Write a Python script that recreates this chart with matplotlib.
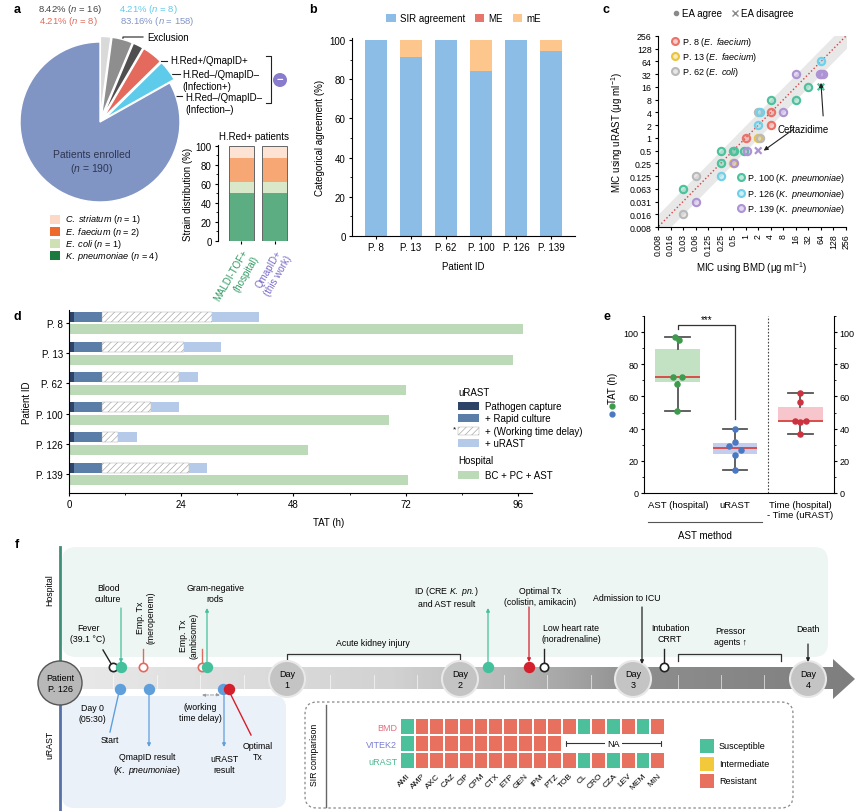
import numpy as np
import matplotlib
matplotlib.use('Agg')
import matplotlib.pyplot as plt
from matplotlib.patches import Rectangle, Circle, FancyBboxPatch, Polygon
from matplotlib.lines import Line2D
from matplotlib.colors import ListedColormap, LinearSegmentedColormap, to_rgba
from matplotlib.ticker import NullLocator, MultipleLocator

plt.rcParams['font.family'] = ['Liberation Sans', 'DejaVu Sans']
plt.rcParams['mathtext.fontset'] = 'custom'
plt.rcParams['mathtext.rm'] = 'Liberation Sans'
plt.rcParams['mathtext.it'] = 'Liberation Sans:italic'
plt.rcParams['font.size'] = 7
plt.rcParams['axes.linewidth'] = 0.8
plt.rcParams['xtick.major.width'] = 0.8
plt.rcParams['ytick.major.width'] = 0.8
plt.rcParams['xtick.major.size'] = 2.5
plt.rcParams['ytick.major.size'] = 2.5
plt.rcParams['xtick.minor.size'] = 1.5
plt.rcParams['ytick.minor.size'] = 1.5
plt.rcParams['xtick.major.pad'] = 2
plt.rcParams['ytick.major.pad'] = 2
plt.rcParams['hatch.linewidth'] = 0.5

# ---- data: panel a ----
pie_n = [4, 8, 4, 8, 8, 158]          # exclusion (3 parts), H.Red+/QmapID+, H.Red-/QmapID-, enrolled
pie_colors = ['#d9d9d9', '#8e8e8e', '#4f4f4f', '#e36a5c', '#5fcbeb', '#8195c5']
strain_names = ['C. striatum', 'E. faecium', 'E. coli', 'K. pneumoniae']
strain_n = [1, 2, 1, 4]
strain_groups = ['MALDI-TOF+\n(hospital)', 'QmapID+\n(this work)']

# ---- data: panel b ----
patients = ['P. 8', 'P. 13', 'P. 62', 'P. 100', 'P. 126', 'P. 139']
sir_agree = [100, 91.5, 100, 84, 100, 94.5]
major_err = [0, 0, 0, 0, 0, 0]
minor_err = [0, 8.5, 0, 16, 0, 5.5]

# ---- data: panel c (MIC, ug/ml) ----
p8_bmd, p8_urast = [1, 4, 4], [1, 4, 2]
p13_bmd, p13_urast = [0.5, 2], [0.25, 1]
p62_bmd, p62_urast = [0.031, 0.063, 2, 2.15], [0.016, 0.125, 4, 1]
p100_bmd = [0.031, 0.25, 0.25, 0.5, 0.52, 0.9, 4, 16, 32]
p100_urast = [0.063, 0.25, 0.5, 0.5, 0.5, 0.5, 8, 8, 16]
p126_bmd, p126_urast = [0.25, 2, 2.15, 64], [0.125, 2, 4, 64]
p139_bmd = [0.063, 0.53, 1.05, 8, 16, 60, 64, 70]
p139_urast = [0.031, 0.25, 0.5, 4, 32, 32, 32, 32]
disagree_bmd = [64, 2]
disagree_urast = [16, 0.5]

# ---- data: panel d (TAT, h) ----
capture_end = [1, 1, 1, 1, 1, 1]
culture_end = [7, 7, 7, 7, 7, 7]
delay_end = [30.5, 24.6, 23.5, 17.6, 10.5, 25.6]
urast_tat = [40.7, 32.6, 27.6, 23.6, 14.6, 29.6]
hospital_tat = [97, 95, 72, 68.5, 51, 72.5]

# ---- data: panel e ----
e_labels = ['AST (hospital)', 'uRAST', 'Time (hospital)\n- Time (uRAST)']
tat_hospital = [97, 95, 72, 72, 68, 51]
tat_urast = [40, 32, 29.5, 27, 23.5, 14.5]
tat_diff = [62, 56.5, 45, 44.5, 44, 36.5]

# ---- data: panel f (SIR comparison) ----
antibiotics = ['AMI', 'AMP', 'AXC', 'CAZ', 'CIP', 'CPM', 'CTX', 'ETP', 'GEN',
               'IPM', 'PTZ', 'TOB', 'CL', 'CRO', 'CZA', 'LEV', 'MEM', 'MIN']
sir_methods = ['BMD', 'VITEK2', 'uRAST']
bmd_sir = list('SRRRRRRRRRRRSRSRSR')
vitek2_sir = list('SRRRRRRRRRR') + [None] * 7
urast_sir = list('SRRRRRRRRRRRSRSRSR')

W, H = 855, 812
fig = plt.figure(figsize=(W / 100, H / 100), dpi=100)


def rect(x0, y0, x1, y1):
    return [x0 / W, 1 - y1 / H, (x1 - x0) / W, (y1 - y0) / H]


ov = fig.add_axes([0, 0, 1, 1], zorder=0)
ov.set_autoscale_on(False)
ov.set_xlim(0, W)
ov.set_ylim(H, 0)
ov.axis('off')


def t(x, y, s, size=6.3, **kw):
    kw.setdefault('ha', 'center')
    kw.setdefault('va', 'center')
    return ov.text(x, y, s, fontsize=size, **kw)


for lab, (x, y) in zip('abcdef', [(17, 10), (313, 10), (606, 10), (17, 317), (607, 317), (17, 545)]):
    ov.text(x, y, lab, fontsize=9, fontweight='bold', ha='center', va='center')

# ================= panel a =================
ax_pie = fig.add_axes(rect(12, 35, 188, 211))
ax_pie.pie(pie_n, colors=pie_colors, startangle=90, counterclock=False,
           explode=[0.07] * 5 + [0], wedgeprops=dict(edgecolor='white', linewidth=1))
ax_pie.set_xlim(-1.1, 1.1)
ax_pie.set_ylim(-1.1, 1.1)
ax_pie.text(-0.1, -0.5, 'Patients enrolled\n($\\it{n}$ = 190)', ha='center', va='center', fontsize=7.5, color='#2d3550')

t(70, 9, '8.42% ($\\it{n}$ = 16)', size=6.8, color='#444444')
t(68, 22, '4.21% ($\\it{n}$ = 8)', size=6.8, color='#e36a5c')
t(148, 9, '4.21% ($\\it{n}$ = 8)', size=6.8, color='#5fcbeb')
t(157, 22, '83.16% ($\\it{n}$ = 158)', size=6.8, color='#8195c5')

ov.plot([122, 123, 143], [48, 38, 38], color='#222', lw=0.8)
t(147, 38, 'Exclusion', size=7, ha='left')
ov.plot([147, 167], [62, 62], color='#222', lw=0.8)
t(170, 61, 'H.Red+/QmapID+', size=7, ha='left')
ov.plot([160, 180], [75, 75], color='#222', lw=0.8)
t(182, 81, 'H.Red–/QmapID–\n(Infection+)', size=7, ha='left')
ov.plot([165, 182], [97, 97], color='#222', lw=0.8)
t(185, 104, 'H.Red–/QmapID–\n(Infection–)', size=7, ha='left')
ov.plot([266, 271, 271, 266], [57, 57, 104, 104], color='#222', lw=0.8)
ov.add_patch(Circle((280, 81), 7, fc='#8a7ccc', ec='none'))
t(280, 80, '−', size=8, color='white', fontweight='bold')

legend_cols = ['#fbd9c6', '#ee6a2c', '#cfe0b4', '#1b7a3e']
for i, (name, n, c) in enumerate(zip(strain_names, strain_n, legend_cols)):
    y = 220 + i * 12.3
    ov.add_patch(Rectangle((50, y - 4.5), 10, 9, fc=c, ec='none'))
    nm = name.replace(' ', '\\ ')
    t(65, y, f'$\\it{{{nm}}}$ ($\\it{{n}}$ = {n})', size=6.6, ha='left')

ax_st = fig.add_axes(rect(218, 146, 290, 242))
ax_st.patch.set_alpha(0)
bar_cols = ['#fde3d4', '#f6a774', '#d9e8c8', '#5dad82']
bottom = np.zeros(2)
total = sum(strain_n)
for n, c in zip(strain_n[::-1], bar_cols[::-1]):
    pct = np.full(2, n / total * 100)
    ax_st.bar([0, 1], pct, bottom=bottom, width=0.75, color=c, lw=0)
    bottom = bottom + pct
ax_st.bar([0, 1], bottom, width=0.75, fill=False, edgecolor='#666', lw=0.7)
ax_st.set_xlim(-0.7, 1.45)
ax_st.set_ylim(0, 101)
ax_st.set_yticks([0, 20, 40, 60, 80, 100])
ax_st.yaxis.set_minor_locator(MultipleLocator(10))
ax_st.set_xticks([0, 1])
ax_st.set_xticklabels(strain_groups, rotation=60, ha='right', rotation_mode='anchor', fontsize=7)
for lbl, c in zip(ax_st.get_xticklabels(), ['#2f9a62', '#7a6cc8']):
    lbl.set_color(c)
for s in ['top', 'right', 'bottom']:
    ax_st.spines[s].set_visible(False)
ax_st.set_ylabel('Strain distribution (%)', fontsize=7, labelpad=2)
ax_st.set_title('H.Red+ patients', fontsize=7, pad=4)
ax_st.tick_params(labelsize=7)

# ================= panel b =================
ax_b = fig.add_axes(rect(352, 39, 575, 237))
ax_b.patch.set_alpha(0)
xb = np.arange(len(patients))
ax_b.bar(xb, sir_agree, width=0.63, color='#8bbde6', label='SIR agreement')
ax_b.bar(xb, major_err, bottom=sir_agree, width=0.63, color='#e8756a', label='ME')
ax_b.bar(xb, minor_err, bottom=np.array(sir_agree) + np.array(major_err), width=0.63,
         color='#fcc68d', label='mE')
ax_b.set_xlim(-0.69, 5.69)
ax_b.set_ylim(0, 101)
ax_b.set_xticks(xb)
ax_b.set_xticklabels(patients)
ax_b.set_yticks([0, 20, 40, 60, 80, 100])
ax_b.yaxis.set_minor_locator(MultipleLocator(10))
for s in ['top', 'right']:
    ax_b.spines[s].set_visible(False)
ax_b.set_ylabel('Categorical agreement (%)', fontsize=7, labelpad=3)
ax_b.set_xlabel('Patient ID', fontsize=7, labelpad=6)
ax_b.tick_params(labelsize=7)
ax_b.legend(loc='center', bbox_to_anchor=(0.5, 1.1), ncol=3, frameon=False, fontsize=7,
            handlelength=1.0, handleheight=1.0, handletextpad=0.4, columnspacing=1.0)

# ================= panel c =================
ax_c = fig.add_axes(rect(658, 37, 846, 228))
ax_c.patch.set_alpha(0)
ax_c.set_xscale('log', base=2)
ax_c.set_yscale('log', base=2)
xs = np.logspace(-9, 10, 60, base=2)
ax_c.fill_between(xs, xs / 2, xs * 2, color='#e8e8e8', lw=0, zorder=0)
ax_c.plot(xs, xs, ls=':', color='#d84040', lw=1, zorder=1)
c_series = [
    (p8_bmd, p8_urast, '#ea7268', 'P. 8 ($\\it{E.\\ faecium}$)'),
    (p13_bmd, p13_urast, '#e9c43c', 'P. 13 ($\\it{E.\\ faecium}$)'),
    (p62_bmd, p62_urast, '#b9b9b9', 'P. 62 ($\\it{E.\\ coli}$)'),
    (p100_bmd, p100_urast, '#4dc09c', 'P. 100 ($\\it{K.\\ pneumoniae}$)'),
    (p126_bmd, p126_urast, '#6fd0ea', 'P. 126 ($\\it{K.\\ pneumoniae}$)'),
    (p139_bmd, p139_urast, '#ad93d4', 'P. 139 ($\\it{K.\\ pneumoniae}$)'),
]
handles = []
for bx, by, c, lab in c_series:
    ax_c.scatter(bx, by, s=28, facecolors=[to_rgba(c, 0.35)], edgecolors=c, linewidths=1.5, zorder=3)
    handles.append(Line2D([], [], ls='', marker='o', ms=5, mfc=to_rgba(c, 0.35), mec=c, mew=1.5, label=lab))
ax_c.scatter(disagree_bmd, disagree_urast, marker='x', s=22, color=['#4dc09c', '#ad93d4'], linewidths=1.6, zorder=3)
ticks = [2.0 ** k for k in range(-7, 9)]
ax_c.set_xticks(ticks)
ax_c.set_yticks(ticks)
ax_c.set_xticklabels(['0.008', '0.016', '0.03', '0.06', '0.125', '0.25', '0.5', '1', '2', '4', '8',
                      '16', '32', '64', '128', '256'], rotation=90)
ax_c.set_yticklabels(['0.008', '0.016', '0.031', '0.063', '0.125', '0.25', '0.5', '1', '2', '4', '8',
                      '16', '32', '64', '128', '256'])
ax_c.xaxis.set_minor_locator(NullLocator())
ax_c.yaxis.set_minor_locator(NullLocator())
ax_c.set_xlim(2.0 ** -7, 2.0 ** 8)
ax_c.set_ylim(2.0 ** -7, 2.0 ** 8)
for s in ['top', 'right']:
    ax_c.spines[s].set_visible(False)
ax_c.tick_params(labelsize=6.3)
ax_c.set_xlabel('MIC using BMD (μg ml$^{-1}$)', fontsize=7, labelpad=3)
ax_c.set_ylabel('MIC using uRAST (μg ml$^{-1}$)', fontsize=7, labelpad=3)
leg1 = ax_c.legend(handles=handles[:3], loc='upper left', bbox_to_anchor=(0.04, 1.04), frameon=False,
                   fontsize=6.5, handlelength=0.8, handletextpad=0.3, labelspacing=0.25, borderpad=0.2)
ax_c.add_artist(leg1)
leg2 = ax_c.legend(handles=handles[3:], loc='lower right', bbox_to_anchor=(1.03, 0.03), frameon=False,
                   fontsize=6.5, handlelength=0.8, handletextpad=0.3, labelspacing=0.25, borderpad=0.2)
ax_c.add_artist(leg2)
ea = [Line2D([], [], ls='', marker='o', ms=3, color='#8a8a8a', label='EA agree'),
      Line2D([], [], ls='', marker='x', ms=4, mew=1, color='#8a8a8a', label='EA disagree')]
ax_c.legend(handles=ea, loc='center', bbox_to_anchor=(0.4, 1.12), ncol=2, frameon=False, fontsize=7,
            handlelength=0.6, handletextpad=0.3, columnspacing=1.0)
ax_c.annotate('Ceftazidime', xy=(64, 20), xytext=(24, 1.6), fontsize=7, ha='center', va='center',
              arrowprops=dict(arrowstyle='-|>', color='#222', lw=0.8, mutation_scale=6,
                              shrinkA=4, shrinkB=0, relpos=(0.9, 1)))
ax_c.annotate('', xy=(2.7, 0.5), xytext=(14, 1.6),
              arrowprops=dict(arrowstyle='-|>', color='#222', lw=0.8, mutation_scale=6,
                              shrinkA=0, shrinkB=0))

# ================= panel d =================
ax_d = fig.add_axes(rect(69, 311, 532, 494))
ax_d.patch.set_alpha(0)
yd = np.arange(len(patients))
yu, yh, bh = yd - 0.21, yd + 0.21, 0.33
ax_d.barh(yu, capture_end, height=bh, color='#2d4468', lw=0)
ax_d.barh(yu, np.array(culture_end) - np.array(capture_end), left=capture_end, height=bh, color='#5b7ea8', lw=0)
ax_d.barh(yu, np.array(delay_end) - np.array(culture_end), left=culture_end, height=bh,
          color='white', edgecolor='#a8a8a8', hatch='/////', lw=0.3)
ax_d.barh(yu, np.array(urast_tat) - np.array(delay_end), left=delay_end, height=bh, color='#b5c9e9', lw=0)
ax_d.barh(yh, hospital_tat, height=bh, color='#bcdab8', lw=0)
ax_d.set_xlim(0, 99)
ax_d.set_ylim(5.63, -0.43)
ax_d.set_yticks(yd)
ax_d.set_yticklabels(patients)
ax_d.set_xticks([0, 24, 48, 72, 96])
ax_d.xaxis.set_minor_locator(MultipleLocator(12))
for s in ['top', 'right']:
    ax_d.spines[s].set_visible(False)
ax_d.tick_params(labelsize=7)
ax_d.set_ylabel('Patient ID', fontsize=7, labelpad=3)
ax_d.set_xlabel('TAT (h)', fontsize=7, labelpad=8)
ax_d.xaxis.set_label_coords(0.56, -0.13)

t(458, 393, 'uRAST', size=7, ha='left')
d_leg = [('#2d4468', None, 'Pathogen capture'), ('#5b7ea8', None, '+ Rapid culture'),
         ('white', '/////', '+ (Working time delay)'), ('#b5c9e9', None, '+ uRAST')]
for i, (c, hatch, lab) in enumerate(d_leg):
    y = 407 + i * 12.3
    ov.add_patch(Rectangle((458, y - 4), 21, 8, fc=c, ec='#a8a8a8' if hatch else 'none',
                           hatch=hatch, lw=0.3 if hatch else 0))
    t(485, y, lab, size=7, ha='left')
t(454, 430, '*', size=6)
t(458, 461, 'Hospital', size=7, ha='left')
ov.add_patch(Rectangle((458, 472), 21, 8, fc='#bcdab8', ec='none'))
t(485, 476, 'BC + PC + AST', size=7, ha='left')

# ================= panel e =================
ax_e = fig.add_axes(rect(644, 317, 834, 494))
ax_e.patch.set_alpha(0)
e_pos = [0, 1, 2.14]
bp = ax_e.boxplot([tat_hospital, tat_urast, tat_diff], positions=e_pos, widths=0.78, whis=(0, 100),
                  patch_artist=True, showfliers=False, capwidths=0.43,
                  medianprops=dict(color='#d9443f', lw=1.3),
                  whiskerprops=dict(color='#555', lw=1.3), capprops=dict(color='#555', lw=1.3),
                  boxprops=dict(lw=0))
box_fc = ['#c3e2c3', '#c5cdee', '#f7c6cc']
for patch, c in zip(bp['boxes'], box_fc):
    patch.set_facecolor(c)
    patch.set_edgecolor('none')
    patch.set_zorder(1)
jit_h = [-0.05, 0.03, -0.09, 0.08, -0.02, -0.02]
jit_u = [0, 0, -0.1, 0.1, 0, 0]
jit_d = [0, 0, -0.1, 0.1, 0, 0]
for vals, jit, x0, c in [(tat_hospital, jit_h, e_pos[0], '#3e9a4c'),
                         (tat_urast, jit_u, e_pos[1], '#4a78c2'),
                         (tat_diff, jit_d, e_pos[2], '#cc3340')]:
    ax_e.scatter(np.array(jit) + x0, vals, s=22, color=c, zorder=4, lw=0)
ax_e.axvline(1.57, ls=(0, (1.5, 1.5)), color='#444', lw=0.8)
ax_e.plot([0, 0, 1, 1], [102, 104.5, 104.5, 46], color='#333', lw=0.9)
ax_e.text(0.5, 104.8, '***', ha='center', va='bottom', fontsize=7)
ax_e.set_xlim(-0.59, 2.73)
ax_e.set_ylim(0, 110)
ax_e.set_yticks([0, 20, 40, 60, 80, 100])
ax_e.yaxis.set_minor_locator(MultipleLocator(10))
ax_e.set_xticks(e_pos)
ax_e.set_xticklabels(e_labels, fontsize=6.8)
ax_e.tick_params(axis='x', length=0, pad=5)
ax_e.tick_params(axis='y', which='both', right=True, labelright=True, pad=1.5, labelsize=6.5)
ax_e.spines['top'].set_visible(False)
t(613, 388, 'TAT (h)', size=7, rotation=90)
ov.plot([612], [407], 'o', ms=3.5, color='#3e9a4c')
ov.plot([612], [415], 'o', ms=3.5, color='#4a78c2')
ov.plot([648, 762], [523, 523], color='#555', lw=0.8)
t(705, 536, 'AST method', size=7)

# ================= panel f =================
ov.add_patch(FancyBboxPatch((62, 548), 766, 110, boxstyle='round,pad=0,rounding_size=14',
                            fc='#eef6f3', ec='none', zorder=0))
ov.add_patch(FancyBboxPatch((62, 697), 224, 112, boxstyle='round,pad=0,rounding_size=12',
                            fc='#ebf1f9', ec='none', zorder=0))
ov.plot([60, 60], [548, 662], color='#3d8f78', lw=2, zorder=1)
ov.plot([60, 60], [706, 812], color='#5470a6', lw=2, zorder=1)
t(50, 590, 'Hospital', rotation=90)
t(50, 745, 'uRAST', rotation=90)

grad = np.linspace(0, 1, 256).reshape(1, -1)
band_cmap = LinearSegmentedColormap.from_list(
    'band', [(0, '#e8e8e8'), (0.4, '#d2d2d2'), (0.55, '#b9b9b9'), (0.72, '#8e8e8e'), (1, '#7e7e7e')])
im = ov.imshow(grad, extent=(80, 856, 702, 658), cmap=band_cmap, aspect='auto', zorder=1)
arrow = Polygon([(80, 668), (833, 668), (833, 660), (855, 680), (833, 700), (833, 690), (80, 690)],
                closed=True, fc='none', ec='none', transform=ov.transData)
ov.add_patch(arrow)
im.set_clip_path(arrow)
for k in range(-4, 13):
    x = 287 + k * 43.4
    ov.plot([x, x], [676, 690], color='white', lw=0.6, alpha=0.7, zorder=1.5)

ov.add_patch(Circle((60, 684), 22, fc='#b8b8b8', ec='#555', lw=1, zorder=3))
t(60, 684, 'Patient\nP. 126', size=6.5, zorder=4)
for x, d in zip([287, 460, 633, 808], [1, 2, 3, 4]):
    ov.add_patch(Circle((x, 680), 18, fc='#c4c4c4', ec='#e8e8e8', lw=1.5, zorder=3))
    t(x, 680, f'Day\n{d}', size=6.5, zorder=4)

teal, red, dred, blue = '#45c09c', '#e06a60', '#d4202c', '#5f9fdc'
arr = dict(arrowstyle='-|>', lw=0.9, mutation_scale=5, shrinkA=0, shrinkB=0)


def dot(x, y, c, filled=True, ms=7):
    ov.plot([x], [y], 'o', ms=ms, mfc=c if filled else 'white', mec=c, mew=1.2, zorder=5)


def arrow_line(x0, y0, x1, y1, c):
    ov.annotate('', xy=(x1, y1), xytext=(x0, y0), arrowprops=dict(arr, color=c), zorder=4)


# hospital events
ov.plot([113, 103], [668, 651], color='#222', lw=1, zorder=4)
dot(113, 668, '#222', False, 6)
t(88, 634, 'Fever\n(39.1 °C)')
arrow_line(121, 609, 121, 664, teal)
dot(121, 668, teal)
t(108, 594, 'Blood\nculture')
ov.plot([143, 143], [650, 664], color=red, lw=1, zorder=4)
dot(143, 668, red, False, 6)
t(146, 618, 'Emp. Tx\n(meropenem)', rotation=90)
ov.plot([202, 202], [650, 664], color=red, lw=1, zorder=4)
dot(202, 668, red, False, 6)
t(189, 636, 'Emp. Tx\n(ambisome)', rotation=90)
dot(207, 668, teal)
arrow_line(207, 664, 207, 609, teal)
t(215, 594, 'Gram-negative\nrods')
ov.plot([287, 287, 460, 460], [662, 655, 655, 662], color='#333', lw=0.9, zorder=2)
t(373, 644, 'Acute kidney injury')
dot(488, 668, teal)
arrow_line(488, 664, 488, 609, teal)
t(447, 597, 'ID (CRE $\\it{K.\\ pn.}$)\nand AST result')
arrow_line(529, 608, 529, 663, dred)
dot(529, 668, dred)
ov.plot([544, 544], [650, 664], color='#222', lw=1, zorder=4)
dot(544, 668, '#222', False, 6)
t(540, 597, 'Optimal Tx\n(colistin, amikacin)')
t(571, 634, 'Low heart rate\n(noradrenaline)')
arrow_line(642, 608, 642, 665, '#222')
t(627, 599, 'Admission to ICU')
ov.plot([664, 664], [650, 664], color='#222', lw=1, zorder=4)
dot(664, 668, '#222', False, 6)
t(670, 634, 'Intubation\nCRRT')
ov.plot([678, 678, 781, 781], [662, 655, 655, 662], color='#333', lw=0.9, zorder=2)
t(730, 637, 'Pressor\nagents ↑')
arrow_line(808, 645, 808, 663, '#222')
t(808, 630, 'Death')

# uRAST events
ov.plot([119, 110], [693, 733], color=blue, lw=1, zorder=4)
dot(120, 690, blue)
t(110, 741, 'Start')
t(92, 714, 'Day 0\n(05:30)')
arrow_line(149, 693, 149, 748, blue)
dot(149, 690, blue)
t(147, 765, 'QmapID result\n($\\it{K.\\ pneumoniae}$)')
ov.annotate('', xy=(202, 696), xytext=(220, 696),
            arrowprops=dict(arrowstyle='<|-|>', color='#999', lw=0.7, ls='--', mutation_scale=4,
                            shrinkA=0, shrinkB=0), zorder=4)
t(200, 713, '(working\ntime delay)')
arrow_line(224, 693, 224, 748, blue)
dot(223, 690, blue)
ov.plot([230, 251], [694, 736], color=dred, lw=1, zorder=4)
dot(229, 690, dred)
t(224, 765, 'uRAST\nresult')
t(258, 752, 'Optimal\nTx')

# SIR comparison box
ov.add_patch(FancyBboxPatch((305, 703), 488, 106, boxstyle='round,pad=0,rounding_size=12',
                            fc='none', ec='#888', lw=0.9, ls=(0, (2, 2)), zorder=1))
ov.plot([326, 326], [706, 808], color='#666', lw=1, zorder=1)
t(314, 755, 'SIR comparison', rotation=90)

sir_code = {'S': 0, 'I': 1, 'R': 2}
sir_rows = [bmd_sir, vitek2_sir, urast_sir]
grid = np.ma.masked_invalid(np.array([[np.nan if v is None else sir_code[v] for v in row]
                                       for row in sir_rows], dtype=float))
ax_g = fig.add_axes(rect(400, 719, 665, 770), zorder=2)
ax_g.patch.set_alpha(0)
ax_g.pcolormesh(np.arange(len(antibiotics) + 1), np.arange(len(sir_methods) + 1), grid,
                cmap=ListedColormap(['#4cbf9b', '#f2c93a', '#e8705f']), vmin=-0.5, vmax=2.5,
                edgecolors='white', linewidth=1.3)
ax_g.set_xlim(0, len(antibiotics))
ax_g.set_ylim(len(sir_methods), 0)
ax_g.set_yticks(np.arange(len(sir_methods)) + 0.5)
ax_g.set_yticklabels(sir_methods, fontsize=6.5)
for lbl, c in zip(ax_g.get_yticklabels(), ['#e0707e', '#7b7fd0', '#4cb890']):
    lbl.set_color(c)
ax_g.set_xticks(np.arange(len(antibiotics)) + 0.5)
ax_g.set_xticklabels(antibiotics, rotation=45, ha='right', rotation_mode='anchor', fontsize=6)
ax_g.tick_params(length=0, pad=2)
for s in ax_g.spines.values():
    s.set_visible(False)
na_start = sum(v is not None for v in vitek2_sir)
ax_g.annotate('', xy=(na_start + 0.3, 1.5), xytext=(len(antibiotics) - 0.3, 1.5),
              arrowprops=dict(arrowstyle='|-|', color='#333', lw=0.8, mutation_scale=2,
                              shrinkA=0, shrinkB=0))
ax_g.text((na_start + len(antibiotics)) / 2, 1.5, 'NA', ha='center', va='center', fontsize=6.5,
          bbox=dict(fc='white', ec='none', pad=1.5))

for i, (c, lab) in enumerate(zip(['#4cbf9b', '#f2c93a', '#e8705f'],
                                 ['Susceptible', 'Intermediate', 'Resistant'])):
    y = 747 + i * 17.5
    ov.add_patch(Rectangle((700, y - 7), 14, 14, fc=c, ec='none', zorder=2))
    t(719, y, lab, size=6.5, ha='left')

ov.set_xlim(0, W)
ov.set_ylim(H, 0)

fig.savefig('out.png', dpi=100)
